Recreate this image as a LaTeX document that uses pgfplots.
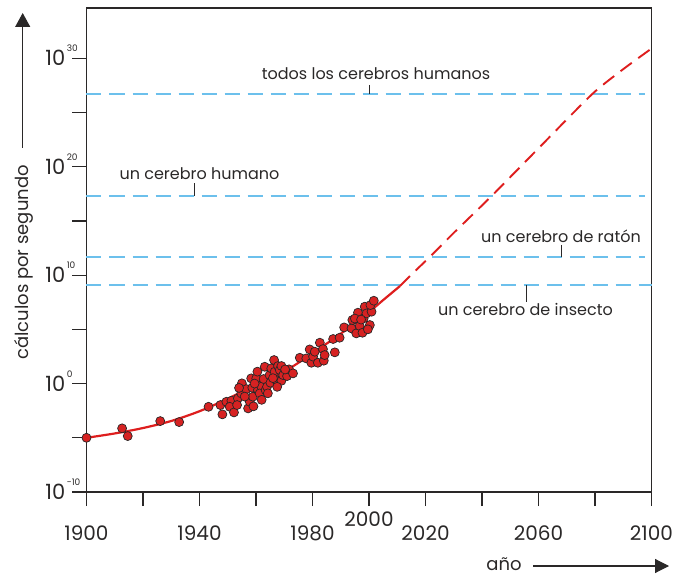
\documentclass[border=0pt]{standalone}
\usepackage{fontspec}
\setmainfont{Poppins}
\usepackage{pgfplots}
\pgfplotsset{compat=1.18}
\usetikzlibrary{arrows.meta}
\definecolor{txt}{RGB}{42,40,40}
\definecolor{brain}{RGB}{108,192,236}
\definecolor{curve}{RGB}{222,30,30}
\definecolor{dotfill}{RGB}{214,34,34}
\newcommand{\tenpow}[1]{10\rlap{\hspace{1.5pt}\smash{\raisebox{14pt}{\fontsize{9}{9}\selectfont #1}}}}
\begin{document}
\begin{tikzpicture}
\begin{axis}[
  scale only axis, width=565pt, height=484pt,
  xmin=1900, xmax=2100, ymin=-10, ymax=34.64,
  axis line style={draw=txt, line width=1.2pt},
  tick style={draw=txt, line width=1.2pt},
  tick align=outside, xtick pos=bottom, ytick pos=left,
  major tick length=14pt,
  xtick={1900,1920,...,2100},
  xticklabels={1900,,1940,,1980,{\raisebox{14pt}{2000}},2020,,2060,,2100},
  ytick={-10,-5,...,30},
  yticklabels={{\tenpow{-10}},,{\tenpow{0}},,{\tenpow{10}},,{\tenpow{20}},,{\tenpow{30}}},
  xticklabel style={anchor=north, inner sep=0pt, text height=14pt, text depth=0pt,
    font=\fontsize{20}{20}\selectfont, text=txt, yshift=-20pt},
  yticklabel style={anchor=east, inner sep=0pt, text height=15pt, text depth=0pt,
    font=\fontsize{21}{21}\selectfont, text=txt, xshift=-7pt},
  clip=false,
]
% brain capacity levels
\addplot[brain, line width=2.4pt, dash pattern=on 15pt off 8pt] coordinates {(1900,26.7) (2097.7,26.7)};
\addplot[brain, line width=2.4pt, dash pattern=on 15pt off 8pt] coordinates {(1900,17.3) (2097.7,17.3)};
\addplot[brain, line width=2.4pt, dash pattern=on 15pt off 8pt] coordinates {(1900,11.7) (2097.7,11.7)};
\addplot[brain, line width=2.4pt, dash pattern=on 15pt off 8pt] coordinates {(1900,9.1) (2100,9.1)};
% trend (solid) and extrapolation (dashed)
\addplot[curve, line width=2.2pt, smooth, tension=0.5] coordinates {
  (1900,-5.0) (1910,-4.6) (1920,-4.1) (1930,-3.45) (1940,-2.55) (1950,-1.4)
  (1960,-0.1) (1970,1.1) (1980,2.8) (1990,4.6) (2000,6.6) (2005,7.7) (2011,9.0)};
\addplot[curve, line width=1.9pt, smooth, tension=0.4, dash pattern=on 14pt off 8pt] coordinates {
  (2011,9.0) (2016,10.3) (2022,11.8) (2030,13.9) (2043.4,17.3) (2060,21.7)
  (2079,26.7) (2090,29.0) (2100,30.9)};
% machines
\addplot[only marks, mark=*, mark size=4.5pt, mark options={fill=dotfill, draw=black!85, line width=0.7pt}] coordinates {
  (1900,-5.0) (1912.6,-4.13) (1914.6,-4.84) (1926.1,-3.46) (1932.8,-3.55) (1943.2,-2.14)
  (1947.4,-1.98) (1948.1,-2.84) (1949.5,-1.68) (1951.3,-1.58) (1950.7,-2.14) (1952.2,-2.66)
  (1953.6,-1.37) (1953.3,-1.98) (1954.8,-0.91) (1955.0,0.02) (1956.6,-0.51) (1957.2,-2.29)
  (1957.8,-1.68) (1958.3,0.48) (1958.9,-1.21) (1959.1,-2.10) (1958.7,-0.38) (1960.1,0.48)
  (1960.7,-0.60) (1961.9,-0.29) (1961.3,-0.91) (1962.7,0.42) (1963.1,1.55) (1963.4,-0.60)
  (1963.9,-0.29) (1964.8,0.78) (1965.1,0.08) (1965.4,1.40) (1966.4,2.17) (1966.6,1.09)
  (1967.2,0.32) (1967.8,1.62) (1968.4,1.25) (1969.0,0.26) (1969.0,1.62) (1969.6,0.78)
  (1971.0,0.69) (1971.7,1.31) (1973.1,0.94) (1975.5,2.38) (1977.8,2.32) (1979.0,3.15)
  (1979.6,1.92) (1980.2,2.48) (1980.8,2.94) (1981.9,1.92) (1982.6,3.77) (1983.7,3.18)
  (1984.0,2.11) (1984.3,2.63) (1987.9,2.88) (1987.3,4.11) (1989.6,4.23) (1991.2,5.18)
  (1993.8,5.09) (1994.1,5.86) (1995.5,4.63) (1996.7,5.31) (1996.1,6.54) (1997.7,4.69)
  (1998.1,6.01) (1998.5,7.09) (1999.1,6.47) (2000.3,5.40) (2000.9,6.63) (2000.5,7.24)
  (2001.7,7.64)
  (1954.0,-0.40) (1956.0,-1.20) (1959.5,0.00) (1960.5,1.10) (1962.0,-1.50) (1964.2,-0.90)
  (1966.0,0.50) (1967.5,-0.30) (1970.3,1.30) (1995.0,6.00) (1997.2,5.90) (1999.6,5.00)};
\end{axis}
% annotations in picture pixels (1pt = 1px, y from bottom), shifted so the axis corner is the origin
\begin{scope}[x=1pt, y=1pt, shift={(-86.5pt,-83pt)}]
\begin{scope}[every node/.style={text=txt, inner sep=0pt, font=\fontsize{16}{16}\selectfont}]
\node[anchor=base] at (376,495) {todos los cerebros humanos};
\draw[txt, line width=0.9pt] (369,490) -- (369,481);
\node[anchor=base] at (199.5,395.7) {un cerebro humano};
\draw[txt, line width=0.9pt] (194,391.7) -- (194,379);
\node[anchor=base] at (561,332.3) {un cerebro de ratón};
\draw[txt, line width=0.9pt] (561.7,330) -- (561.7,318);
\node[anchor=base] at (525.5,259.3) {un cerebro de insecto};
\draw[txt, line width=0.9pt] (526,290) -- (526,273.3);
\end{scope}
\node[rotate=90, anchor=base, text=txt, inner sep=0pt, font=\fontsize{18}{18}\selectfont] at (29,312.5) {cálculos por segundo};
\draw[txt, line width=1.1pt, -{Triangle[length=14pt,width=15pt]}] (22.7,427) -- (22.7,562);
\node[anchor=base, text=txt, inner sep=0pt, font=\fontsize{18}{18}\selectfont] at (504,5) {año};
\draw[txt, line width=1.1pt, -{Triangle[length=14pt,width=14pt]}] (533,9) -- (669,9);
\pgfresetboundingbox
\path[use as bounding box] (0,0) rectangle (679,575);
\end{scope}
\end{tikzpicture}
\end{document}
